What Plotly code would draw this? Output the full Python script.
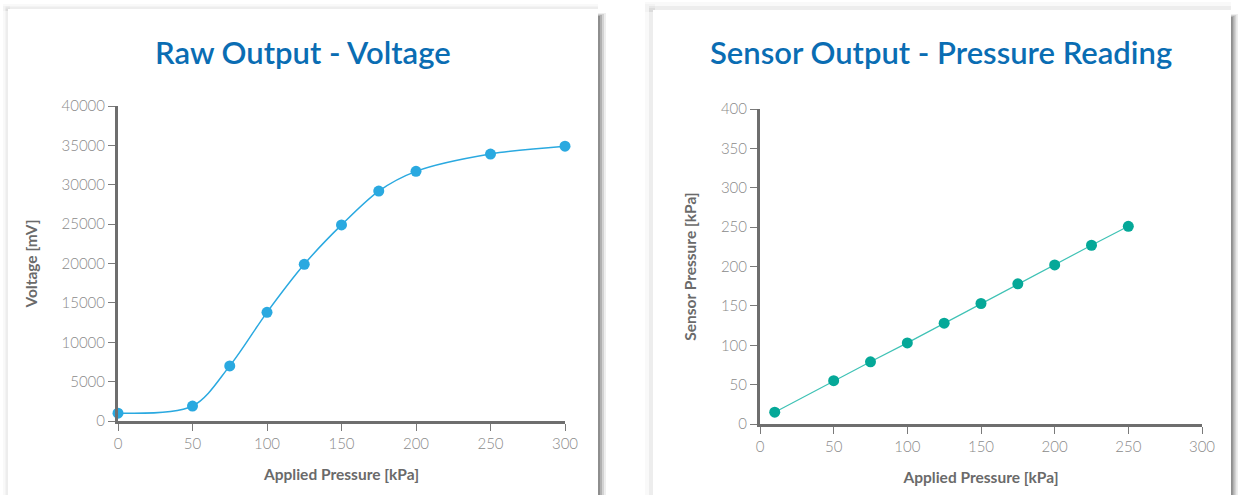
import plotly.graph_objects as go

# ---- data ----
raw_pressure = [0, 50, 75, 100, 125, 150, 175, 200, 250, 300]
raw_voltage = [1000, 1900, 7000, 13800, 19900, 24900, 29200, 31700, 33900, 34900]

sensor_applied = [10, 50, 75, 100, 125, 150, 175, 200, 225, 250]
sensor_reading = [15, 55, 79, 103, 128, 153, 178, 202, 227, 251]

x_ticks = [0, 50, 100, 150, 200, 250, 300]
y1_ticks = [0, 5000, 10000, 15000, 20000, 25000, 30000, 35000, 40000]
y2_ticks = [0, 50, 100, 150, 200, 250, 300, 350, 400]

W, H = 1238, 495
FONT = "Lato"
TITLE_C = "#0a6db3"
TICK_C = "#8a8a8a"
AXT_C = "#6a6a6a"
LINE_C = "#6e6e6e"

def px(x):
    return x / W

def py(y):
    return 1 - y / H

fig = go.Figure()

fig.add_trace(go.Scatter(
    x=raw_pressure, y=raw_voltage, mode="lines+markers",
    line=dict(color="#2aa9e0", width=1.5, shape="spline", smoothing=0.9),
    marker=dict(color="#2aa9e0", size=11),
    cliponaxis=False, xaxis="x", yaxis="y", showlegend=False))

fig.add_trace(go.Scatter(
    x=sensor_applied, y=sensor_reading, mode="lines+markers",
    line=dict(color="#3fc2b5", width=1.2),
    marker=dict(color="#05a898", size=11),
    cliponaxis=False, xaxis="x2", yaxis="y2", showlegend=False))

axis_common = dict(showgrid=False, zeroline=False, showline=True,
                   linecolor=LINE_C, linewidth=3, ticks="outside",
                   ticklen=7, tickcolor="#7a7a7a", tickwidth=1,
                   tickformat="d", automargin=False,
                   tickfont=dict(family=FONT, size=15, color=TICK_C, weight=300),
                   fixedrange=True)

inner_common = dict(showgrid=False, zeroline=False, showline=False,
                    ticks="inside", ticklen=4, tickcolor="#7a7a7a", tickwidth=1,
                    showticklabels=False, automargin=False, fixedrange=True)

title_font = dict(family=FONT, size=15.5, color=AXT_C, weight="bold")

x1_dom = [px(118), px(565)]
y1_dom = [py(421), py(106)]
x2_dom = [px(760), px(1202)]
y2_dom = [py(424), py(109)]

fig.update_layout(
    template="none",
    width=W, height=H,
    margin=dict(l=0, r=0, t=0, b=0, autoexpand=False),
    paper_bgcolor="#ffffff", plot_bgcolor="rgba(0,0,0,0)",
    xaxis=dict(domain=x1_dom, range=[0, 300], tickvals=x_ticks, anchor="y",
               title=dict(text="Applied Pressure [kPa]", standoff=19, font=title_font),
               **axis_common),
    yaxis=dict(domain=y1_dom, range=[0, 40000], tickvals=y1_ticks, anchor="x",
               title=dict(text="Voltage [mV]", standoff=21, font=title_font),
               **axis_common),
    xaxis2=dict(domain=x2_dom, range=[0, 300], tickvals=x_ticks, anchor="y2",
                title=dict(text="Applied Pressure [kPa]", standoff=19, font=title_font),
                **axis_common),
    yaxis2=dict(domain=y2_dom, range=[0, 400], tickvals=y2_ticks, anchor="x2",
                title=dict(text="Sensor Pressure [kPa]", standoff=21, font=title_font),
                **axis_common),
    # inner halves of the crossing tick marks
    xaxis3=dict(domain=x1_dom, range=[0, 300], tickvals=x_ticks, overlaying="x",
                anchor="y", **inner_common),
    yaxis3=dict(domain=y1_dom, range=[0, 40000], tickvals=y1_ticks, overlaying="y",
                anchor="x", **inner_common),
    xaxis4=dict(domain=x2_dom, range=[0, 300], tickvals=x_ticks, overlaying="x2",
                anchor="y2", **inner_common),
    yaxis4=dict(domain=y2_dom, range=[0, 400], tickvals=y2_ticks, overlaying="y2",
                anchor="x2", **inner_common),
)

# card backgrounds with shadows
shapes = []
def card(x0, y0, x1, y1, left_shadow, right_shadow):
    for i, op in enumerate([0.10, 0.18, 0.28, 0.40]):
        off = right_shadow - i * (right_shadow / 4)
        shapes.append(dict(type="rect", xref="paper", yref="paper",
                           x0=px(x1 - 2), x1=px(x1 + off), y0=py(H + 5), y1=py(y0 + 4 + i),
                           fillcolor=f"rgba(90,90,90,{op})", line_width=0, layer="below"))
    for i, op in enumerate([0.04, 0.07]):
        off = left_shadow - i * (left_shadow / 2)
        shapes.append(dict(type="rect", xref="paper", yref="paper",
                           x0=px(x0 - off), x1=px(x0 + 2), y0=py(H + 5), y1=py(y0 - off + 2),
                           fillcolor=f"rgba(90,90,90,{op})", line_width=0, layer="below"))
        shapes.append(dict(type="rect", xref="paper", yref="paper",
                           x0=px(x0 - off), x1=px(x1), y0=py(y0 + 2), y1=py(y0 - off),
                           fillcolor=f"rgba(90,90,90,{op})", line_width=0, layer="below"))
    shapes.append(dict(type="rect", xref="paper", yref="paper",
                       x0=px(x0), x1=px(x1), y0=py(H + 5), y1=py(y0),
                       fillcolor="#ffffff", line_width=0, layer="below"))

card(8, 9, 598, H, 5, 8)
card(653, 10, 1231, H, 8, 7)
fig.update_layout(shapes=shapes)

fig.add_annotation(text="Raw Output - Voltage", xref="paper", yref="paper",
                   x=px(303), y=py(52), showarrow=False, xanchor="center", yanchor="middle",
                   font=dict(family=FONT, size=31, color=TITLE_C, weight=600))
fig.add_annotation(text="Sensor Output - Pressure Reading", xref="paper", yref="paper",
                   x=px(941), y=py(52), showarrow=False, xanchor="center", yanchor="middle",
                   font=dict(family=FONT, size=31, color=TITLE_C, weight=600))

fig.write_html("out.html", config={"displayModeBar": False},
               post_script="document.body.style.margin='0';document.body.style.overflow='hidden';")
